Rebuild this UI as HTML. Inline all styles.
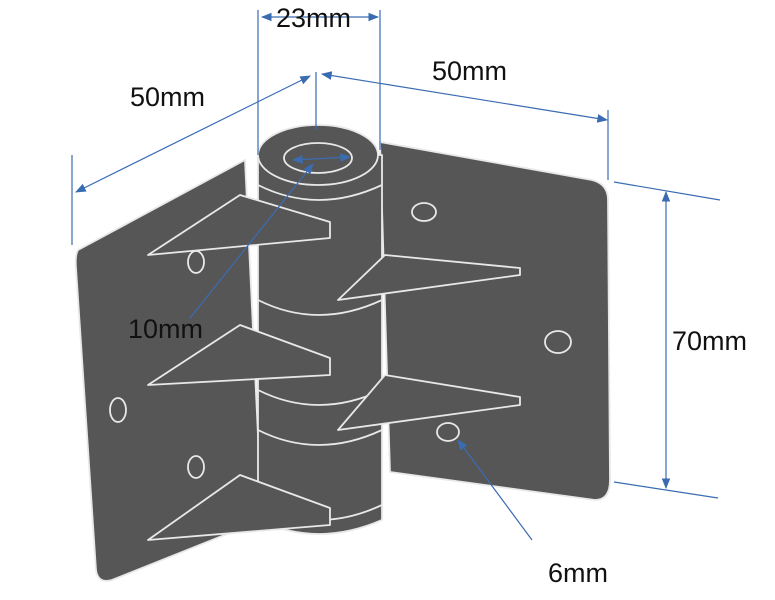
<!DOCTYPE html>
<html><head><style>body{margin:0;background:#fff}svg{display:block}text{font-family:"Liberation Sans",sans-serif;font-size:27px;fill:#111}</style></head><body>
<svg width="775" height="600" viewBox="0 0 775 600">
<defs><marker id="a" viewBox="0 0 10 10" refX="9" refY="5" markerWidth="9" markerHeight="9" orient="auto-start-reverse"><path d="M0,1 L10,5 L0,9z" fill="#3a6cb2"/></marker></defs>
<g stroke="#e8e8e8" stroke-width="1.8" fill="#565656" stroke-linejoin="round">
<!-- right plate -->
<path d="M380,142 L592,180 Q608,184 608,200 L610,480 Q610,500 595,500 L390,472 Z"/>
<!-- left plate -->
<path d="M78,250 L245,160 L262,520 L112,580 Q98,584 96,570 L76,268 Q75,255 78,250 Z"/>
<!-- holes -->
<ellipse cx="424" cy="212" rx="12" ry="9"/><ellipse cx="558" cy="342" rx="13" ry="11"/><ellipse cx="448" cy="432" rx="11" ry="9"/>
<ellipse cx="196" cy="262" rx="8" ry="11"/><ellipse cx="118" cy="410" rx="8" ry="12"/><ellipse cx="196" cy="467" rx="8" ry="11"/>
<!-- barrel -->
<path d="M258,155 L258,520 Q318,548 382,520 L382,155 Z"/>
<path d="M258,185 Q318,215 382,185" fill="none"/>
<path d="M258,300 Q318,330 382,300" fill="none"/>
<path d="M258,390 Q318,420 382,390" fill="none"/>
<path d="M258,430 Q318,460 382,430" fill="none"/>
<path d="M258,505 Q318,535 382,505" fill="none"/>
<ellipse cx="318" cy="155" rx="60" ry="30"/>
<ellipse cx="318" cy="158" rx="34" ry="15"/>
<!-- left fins -->
<path d="M148,255 L240,195 L330,222 L330,238 Z"/>
<path d="M148,385 L240,325 L330,358 L330,375 Z"/>
<path d="M148,540 L240,475 L330,508 L330,525 Z"/>
<!-- right fins -->
<path d="M338,300 L385,255 L520,268 L520,275 Z"/>
<path d="M338,430 L385,375 L520,397 L520,405 Z"/>
</g>
<g stroke="#3a6cb2" stroke-width="1.2" fill="none">
<line x1="258" y1="10" x2="258" y2="155"/><line x1="380" y1="10" x2="380" y2="150"/>
<line x1="262" y1="17" x2="378" y2="17" marker-start="url(#a)" marker-end="url(#a)"/>
<line x1="316" y1="72" x2="316" y2="130"/><line x1="72" y1="155" x2="72" y2="245"/>
<line x1="76" y1="192" x2="310" y2="76" marker-start="url(#a)" marker-end="url(#a)"/>
<line x1="322" y1="74" x2="607" y2="120" marker-start="url(#a)" marker-end="url(#a)"/>
<line x1="608" y1="110" x2="608" y2="180"/>
<line x1="614" y1="182" x2="720" y2="200"/><line x1="614" y1="482" x2="718" y2="498"/>
<line x1="666" y1="192" x2="666" y2="488" marker-start="url(#a)" marker-end="url(#a)"/>
<line x1="293" y1="160" x2="350" y2="157" marker-start="url(#a)" marker-end="url(#a)"/>
<line x1="190" y1="318" x2="313" y2="164" marker-end="url(#a)"/>
<line x1="532" y1="540" x2="458" y2="440" marker-end="url(#a)"/>
</g>
<text x="276" y="27">23mm</text>
<text x="130" y="106">50mm</text>
<text x="432" y="80">50mm</text>
<text x="672" y="350">70mm</text>
<text x="128" y="338">10mm</text>
<text x="548" y="582">6mm</text>
</svg>
</body></html>
